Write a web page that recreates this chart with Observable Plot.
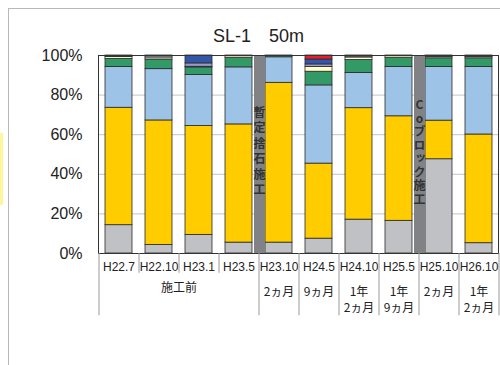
<!DOCTYPE html>
<html>
<head>
<meta charset="utf-8">
<script src="https://cdn.jsdelivr.net/npm/d3@7"></script>
<script src="https://cdn.jsdelivr.net/npm/@observablehq/plot@0.6"></script>
<style>
  body { margin: 0; background: #fff; }
  #wrap { position: relative; width: 500px; height: 365px; overflow: hidden; font-family: 'Liberation Sans', 'Noto Sans CJK JP', sans-serif; }
  #title { position: absolute; left: 213px; top: 27px; white-space: pre; font-size: 18px; line-height: 18px; color: #222; }
  .deco-top { position: absolute; left: 8px; top: 8px; width: 492px; height: 1px; background: #b8b8b8; }
  .deco-left { position: absolute; left: 8px; top: 8px; width: 1px; height: 357px; background: #b8b8b8; }
  .deco-yellow { position: absolute; left: 0; top: 133px; width: 3px; height: 72px; background: #fff59a; }
  #chart { position: absolute; left: 0; top: 0; }
</style>
</head>
<body>
<div id="wrap">
  <div class="deco-top"></div>
  <div class="deco-left"></div>
  <div class="deco-yellow"></div>
  <div id="chart"></div>
  <div id="title">SL-1　50m</div>
</div>
<script>
// Categories (survey dates)
const cats = ["H22.7", "H22.10", "H23.1", "H23.5", "H23.10", "H24.5", "H24.10", "H25.5", "H25.10", "H26.10"];

// Composition (%) per layer, bottom to top
const gray     = [14.3,  4.3,  9.4,  5.5,  5.5,  7.5, 17.1, 16.5, 47.6,  5.2];
const yellow   = [59.3, 62.9, 55.0, 59.7, 80.7, 37.9, 56.3, 52.8, 19.5, 54.9];
const blue     = [20.6, 25.9, 25.7, 28.8, 12.9, 39.5, 17.8, 24.9, 27.1, 34.1];
const green    = [ 4.1,  4.9,  3.9,  4.9,  0.6,  6.9,  6.5,  4.7,  4.4,  4.4];
const cream    = [ 0.9,  1.0,  0.3,  1.1,  0.3,  2.4,  1.3,  1.1,  0.7,  0.7];
const lavender = [ 0.0,  1.0,  1.7,  0.0,  0.0,  1.3,  0.6,  0.0,  0.7,  0.7];
const darkblue = [ 0.8,  0.0,  4.0,  0.0,  0.0,  2.5,  0.4,  0.0,  0.0,  0.0];
const red      = [ 0.0,  0.0,  0.0,  0.0,  0.0,  2.0,  0.0,  0.0,  0.0,  0.0];

const layerNames  = ["gray", "yellow", "blue", "green", "cream", "lavender", "darkblue", "red"];
const layerValues = [gray, yellow, blue, green, cream, lavender, darkblue, red];
const layerColors = ["#c0c1c5", "#ffcc00", "#9dc3e6", "#339966", "#ffffcc", "#9999cc", "#3355aa", "#ee1c25"];

// Y ticks
const yTicks = [0, 0.2, 0.4, 0.6, 0.8, 1];

// Construction markers (placed after these categories)
const workCats = ["H23.5", "H25.5"];
const workLabels = ["暫定捨石施工", "Coブロック施工"];

// Bottom table: group label and elapsed-time labels
const groupCat = "H22.10";
const groupLabel = "施工前";
const periodCats   = ["H23.10", "H24.5", "H24.10", "H25.5", "H25.10", "H26.10"];
const periodLabels = ["2ヵ月", "9ヵ月", "1年\n2ヵ月", "1年\n9ヵ月", "2ヵ月", "1年\n2ヵ月"];

// Table separator lines (right edge of these categories)
const shortLines = ["H22.7", "H22.10", "H23.1"];
const longLines  = ["H23.5", "H23.10", "H24.5", "H24.10", "H25.5", "H25.10", "H26.10"];

const rows = [];
layerNames.forEach((layer, li) => {
  cats.forEach((cat, ci) => {
    const v = layerValues[li][ci];
    if (v > 0) rows.push({cat, layer, value: v / 100});
  });
});

const font = "'Liberation Sans', 'Noto Sans CJK JP', sans-serif";
const jfont = "'Noto Sans CJK JP', sans-serif";

const chart = Plot.plot({
  width: 500,
  height: 365,
  marginLeft: 98,
  marginRight: 2,
  marginTop: 55,
  marginBottom: 112,
  x: {domain: cats, paddingInner: 0.325, paddingOuter: 0.1625, label: null},
  y: {domain: [0, 1], label: null},
  color: {domain: layerNames, range: layerColors},
  style: {fontFamily: font, fontSize: "12px", color: "#222", background: "transparent", overflow: "visible"},
  marks: [
    Plot.gridY({ticks: yTicks, stroke: "#c4c4c4", strokeOpacity: 1}),
    Plot.barY(rows, {x: "cat", y: "value", fill: "layer", stroke: "#2a2a2a", strokeWidth: 0.8}),
    Plot.ruleX(workCats, {x: d => d, dx: 20.5, y1: 0, y2: 1, stroke: "#808285", strokeWidth: 11}),
    Plot.text(workCats, {x: d => d, dx: 20.5, y: 0.51, text: (d, i) => workLabels[i], fontSize: 12, fontWeight: "bold", fill: "#333", fontFamily: jfont, lineAnchor: "bottom"}),
    Plot.frame({stroke: "#333"}),
    Plot.axisY({ticks: yTicks, tickFormat: d3.format(".0%"), tickSize: 0, tickPadding: 16, fontSize: 16, label: null}),
    Plot.axisX({tickSize: 0, tickPadding: 9, fontSize: 12, label: null}),
    // table lines
    Plot.ruleX([cats[0]], {x: d => d, dx: -20, y1: 0, y2: -0.315, stroke: "#999"}),
    Plot.ruleX(shortLines, {x: d => d, dx: 20, y1: 0, y2: -0.1, stroke: "#999"}),
    Plot.ruleX(longLines, {x: d => d, dx: 20, y1: 0, y2: -0.315, stroke: "#999"}),
    // group labels
    Plot.text([groupCat], {x: d => d, dx: 20, y: -0.152, text: () => groupLabel, fontSize: 12, lineAnchor: "top", fontFamily: jfont, fill: "#222"}),
    Plot.text(periodCats, {x: d => d, y: -0.152, text: (d, i) => periodLabels[i], fontSize: 12, lineAnchor: "top", lineHeight: 1.4, fontFamily: jfont, fill: "#222"})
  ]
});

// Set the construction labels in vertical (upright) writing mode
chart.querySelectorAll("text").forEach(t => {
  const s = t.textContent;
  const k = workLabels.indexOf(s);
  if (k >= 0) {
    t.setAttribute("dy", "0");
    t.style.writingMode = "vertical-rl";
    t.style.textOrientation = "upright";
    t.style.letterSpacing = k === 0 ? "3.5px" : "1.5px";
  }
});
document.getElementById("chart").appendChild(chart);
</script>
</body>
</html>
